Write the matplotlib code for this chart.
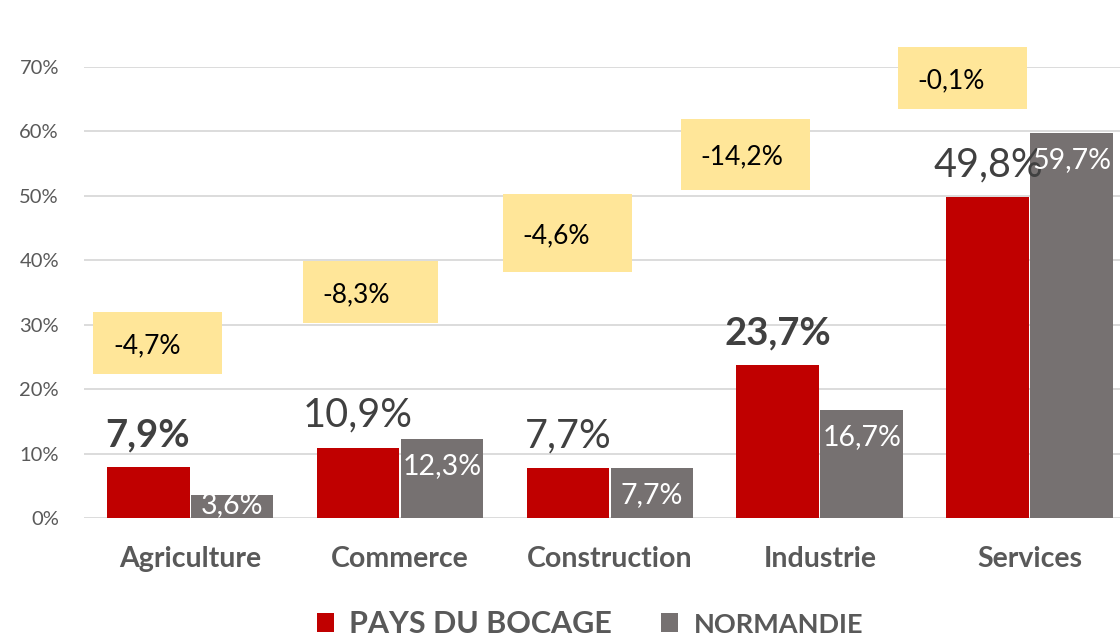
import numpy as np
import matplotlib
matplotlib.use('Agg')
import matplotlib.pyplot as plt
from matplotlib.patches import Patch, Rectangle

plt.rcParams['font.family'] = ['Lato', 'DejaVu Sans']

categories = ['Agriculture', 'Commerce', 'Construction', 'Industrie', 'Services']
bocage = [7.9, 10.9, 7.7, 23.7, 49.8]
normandie = [3.6, 12.3, 7.7, 16.7, 59.7]
ecarts = [-4.7, -8.3, -4.6, -14.2, -0.1]
bold_labels = [True, False, False, True, False]

# yellow boxes: left offset (category units), bottom (%), width, height (%)
box_left = [-0.46, -0.46, -0.51, -0.66, -0.63]
box_bottom = [22.3, 30.3, 38.2, 50.9, 63.5]
box_width = [0.614, 0.643, 0.614, 0.614, 0.614]
box_height = [9.7, 9.6, 12.1, 11.0, 9.6]

red = '#C00000'
grey = '#767171'
yellow = '#FFE699'
txt = '#595959'
dark = '#404040'

def fr(v):
    return ('%.1f' % v).replace('.', ',') + '%'

fig = plt.figure(figsize=(11.2, 6.38), dpi=100)
ax = fig.add_axes([84/1120, 120/638, 1036/1120, 451/638])

x = np.arange(len(categories))
b1 = ax.bar(x - 0.2, bocage, 0.395, color=red, zorder=3)
b2 = ax.bar(x + 0.2, normandie, 0.395, color=grey, zorder=3)

ax.set_ylim(0, 70)
ax.set_xlim(-0.505, 4.429)
ax.set_yticks(np.arange(0, 71, 10))
ax.set_yticklabels(['%d%%' % t for t in range(0, 71, 10)], fontsize=14.5, color=txt)
ax.yaxis.grid(True, color='#D9D9D9', linewidth=1.3, zorder=0)
ax.set_xticks(x)
ax.set_xticklabels(categories, fontsize=20.5, fontweight='bold', color=txt)
ax.tick_params(axis='both', length=0)
ax.tick_params(axis='x', pad=20)
ax.tick_params(axis='y', pad=18)
for s in ax.spines.values():
    s.set_visible(False)

for i in range(len(categories)):
    ax.annotate(fr(bocage[i]), (x[i] - 0.2, bocage[i]), xytext=(0, 15),
                textcoords='offset points', ha='center', va='baseline',
                fontsize=27.5 if bold_labels[i] else 28.5, color=dark,
                fontweight='bold' if bold_labels[i] else 'normal', zorder=5)
    if normandie[i] < 6:
        ax.annotate(fr(normandie[i]), (x[i] + 0.2, 0), xytext=(0, 0),
                    textcoords='offset points', ha='center', va='bottom',
                    fontsize=20.5, color='white', zorder=5)
    else:
        ax.annotate(fr(normandie[i]), (x[i] + 0.2, normandie[i]), xytext=(0, -10),
                    textcoords='offset points', ha='center', va='top',
                    fontsize=20.5, color='white', zorder=5)
    bx = x[i] + box_left[i]
    ax.add_patch(Rectangle((bx, box_bottom[i]), box_width[i], box_height[i],
                           facecolor=yellow, edgecolor='none', zorder=4, clip_on=False))
    ax.annotate(fr(ecarts[i]), (bx, box_bottom[i] + box_height[i] / 2), xytext=(14, 0),
                textcoords='offset points', ha='left', va='center_baseline',
                fontsize=19, color='black', zorder=5, annotation_clip=False)

handles = [Patch(facecolor=red), Patch(facecolor=grey)]
leg = fig.legend(handles, ['PAYS DU BOCAGE', 'NORMANDIE'], loc='center',
                 bbox_to_anchor=(590/1120, 14/638), ncol=2, frameon=False,
                 prop={'size': 22, 'weight': 'bold'}, handlelength=0.56,
                 handleheight=0.56, handletextpad=0.5, columnspacing=1.6)
leg.get_texts()[1].set_fontsize(19.5)
for t in leg.get_texts():
    t.set_color(txt)

fig.savefig('out.png', dpi=100)
